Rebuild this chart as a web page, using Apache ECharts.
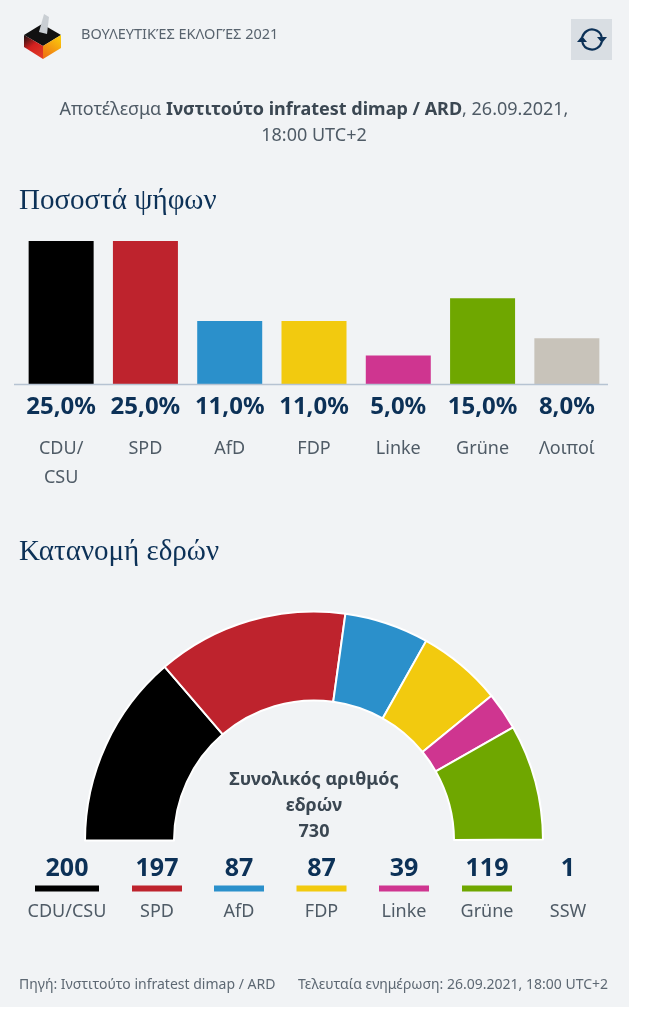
<!DOCTYPE html>
<html>
<head>
<meta charset="utf-8">
<style>
  html, body { margin: 0; padding: 0; background: #fff; }
  #main { width: 650px; height: 1019px; }
</style>
<script src="https://cdn.jsdelivr.net/npm/echarts@6/dist/echarts.min.js"></script>
</head>
<body>
<div id="main"></div>
<script>
var voteParties = ["CDU/\nCSU", "SPD", "AfD", "FDP", "Linke", "Grüne", "Λοιποί"];
var voteValues = [25, 25, 11, 11, 5, 15, 8];
var voteColors = ["#000000", "#be232d", "#2b90cb", "#f2ca0f", "#cf3590", "#6fa700", "#c8c3ba"];

var seatParties = ["CDU/CSU", "SPD", "AfD", "FDP", "Linke", "Grüne", "SSW"];
var seatValues = [200, 197, 87, 87, 39, 119, 1];
var seatColors = ["#000000", "#be232d", "#2b90cb", "#f2ca0f", "#cf3590", "#6fa700", "transparent"];

var sans = "'Noto Sans', sans-serif";
var serif = "'Liberation Serif', serif";
var navy = "#0c3157";
var grey = "#4f5b66";

var chart = echarts.init(document.getElementById("main"));

function text(x, y, str, size, color, align, weight, font) {
  return {
    type: "text",
    x: x,
    y: y,
    z: 10,
    style: {
      text: str,
      fill: color,
      fontSize: size,
      fontFamily: font || sans,
      fontWeight: weight || "normal",
      align: align || "left",
      verticalAlign: "middle",
    },
  };
}

// page, header and notes around the two charts
var graphics = [
  { type: "rect", z: -10, shape: { x: 0, y: 0, width: 629, height: 1007 }, style: { fill: "#f1f3f5" } },
  // ballot box logo
  { type: "polygon", z: 2, shape: { points: [[39, 32], [44, 14], [49, 17], [47, 34]] }, style: { fill: "#c9ced3" } },
  { type: "polygon", z: 1, shape: { points: [[24, 35], [42, 24], [61, 35], [43, 46]] }, style: { fill: "#111111" } },
  {
    type: "polygon", z: 1, shape: { points: [[24, 35], [43, 46], [43, 59], [24, 47]] },
    style: { fill: new echarts.graphic.LinearGradient(0, 0, 1, 1, [{ offset: 0, color: "#111111" }, { offset: 0.45, color: "#d4201f" }, { offset: 1, color: "#e2402a" }]) },
  },
  {
    type: "polygon", z: 1, shape: { points: [[43, 46], [61, 35], [61, 48], [43, 59]] },
    style: { fill: new echarts.graphic.LinearGradient(0, 1, 1, 0, [{ offset: 0, color: "#ee6a14" }, { offset: 1, color: "#fbd20c" }]) },
  },
  text(81, 35, "ΒΟΥΛΕΥΤΙΚΈΣ ΕΚΛΟΓΈΣ 2021", 14.5, "#58636e"),
  // refresh button
  { type: "rect", shape: { x: 571, y: 19, width: 41, height: 41 }, style: { fill: "#d9dee3" } },
  { type: "arc", z: 2, shape: { cx: 592, cy: 39.5, r: 10, startAngle: -2.9, endAngle: -0.25 }, style: { stroke: navy, fill: null, lineWidth: 2.2 } },
  { type: "arc", z: 2, shape: { cx: 592, cy: 39.5, r: 10, startAngle: 0.25, endAngle: 2.9 }, style: { stroke: navy, fill: null, lineWidth: 2.2 } },
  { type: "polygon", z: 2, shape: { points: [[597, 37], [607, 37], [602, 43]] }, style: { fill: navy } },
  { type: "polygon", z: 2, shape: { points: [[577, 42], [587, 42], [582, 36]] }, style: { fill: navy } },
  // subtitle
  {
    type: "text", x: 314, y: 110, z: 10,
    style: {
      text: "{n|Αποτέλεσμα }{b|Ινστιτούτο infratest dimap / ARD}{n|, 26.09.2021,}",
      align: "center", verticalAlign: "middle",
      rich: {
        n: { fontSize: 18, fontFamily: sans, fill: grey, color: grey },
        b: { fontSize: 18, fontFamily: sans, fontWeight: "bold", fill: "#3b4752", color: "#3b4752" },
      },
    },
  },
  text(314, 136, "18:00 UTC+2", 18, grey, "center"),
  text(19, 201, "Ποσοστά ψήφων", 29, navy, "left", "normal", serif),
  text(19, 552, "Κατανομή εδρών", 29, navy, "left", "normal", serif),
  // axis line under the bars
  { type: "line", z: 3, shape: { x1: 14, y1: 384.5, x2: 608, y2: 384.5 }, style: { stroke: "#b6c3d2", lineWidth: 1.5 } },
  // centre of the hemicycle
  text(314, 780, "Συνολικός αριθμός", 18, "#3b4752", "center", "bold"),
  text(314, 806, "εδρών", 18, "#3b4752", "center", "bold"),
  text(314, 832, "730", 18, "#3b4752", "center", "bold"),
  // footer
  text(19, 985, "Πηγή: Ινστιτούτο infratest dimap / ARD", 14, "#5d6873"),
  text(608, 985, "Τελευταία ενημέρωση: 26.09.2021, 18:00 UTC+2", 14, "#5d6873", "right"),
];

// seat legend under the hemicycle
var legendX = [67, 157, 239, 321.5, 404, 487, 568];
var legendW = [64, 50, 50, 50, 50, 50, 0];
seatParties.forEach(function (name, i) {
  graphics.push(text(legendX[i], 869, String(seatValues[i]), 25, navy, "center", "bold"));
  if (legendW[i]) {
    graphics.push({
      type: "rect", z: 5,
      shape: { x: legendX[i] - legendW[i] / 2, y: 885.5, width: legendW[i], height: 6 },
      style: { fill: seatColors[i] },
    });
  }
  graphics.push(text(legendX[i], 912, name, 18, grey, "center"));
});
// CDU/CSU runs out of its column in the original
graphics.push({ type: "rect", z: 11, shape: { x: 111, y: 900, width: 8, height: 24 }, style: { fill: "#f1f3f5" } });

var option = {
  animation: false,
  textStyle: { fontFamily: sans },
  graphic: graphics,
  grid: { left: 19, top: 241, width: 590, height: 143 },
  xAxis: {
    type: "category",
    data: voteParties,
    axisLine: { show: false },
    axisTick: { show: false },
    axisLabel: { color: grey, fontSize: 18, fontFamily: sans, lineHeight: 29, margin: 50, verticalAlign: "top", interval: 0 },
  },
  yAxis: { type: "value", min: 0, max: 25, show: false },
  series: [
    {
      type: "bar",
      barWidth: 65,
      data: voteValues.map(function (v, i) {
        return { value: v, itemStyle: { color: voteColors[i] } };
      }),
      label: {
        show: true,
        position: "bottom",
        distance: 0,
        formatter: function (p) {
          return p.value.toFixed(1).replace(".", ",") + "%";
        },
        color: navy,
        fontSize: 24,
        fontWeight: "bold",
        fontFamily: sans,
      },
      labelLayout: function (params) {
        return { y: 407, verticalAlign: "middle", align: "center" };
      },
    },
    {
      type: "pie",
      center: [314, 840.5],
      radius: [140, 229],
      startAngle: 180,
      endAngle: 0,
      silent: true,
      label: { show: false },
      labelLine: { show: false },
      itemStyle: { borderColor: "#ffffff", borderWidth: 2 },
      data: seatValues.map(function (v, i) {
        return {
          name: seatParties[i],
          value: v,
          itemStyle: { color: seatColors[i], borderWidth: seatColors[i] === "transparent" ? 0 : 2 },
        };
      }),
    },
  ],
};
chart.setOption(option);
</script>
</body>
</html>
